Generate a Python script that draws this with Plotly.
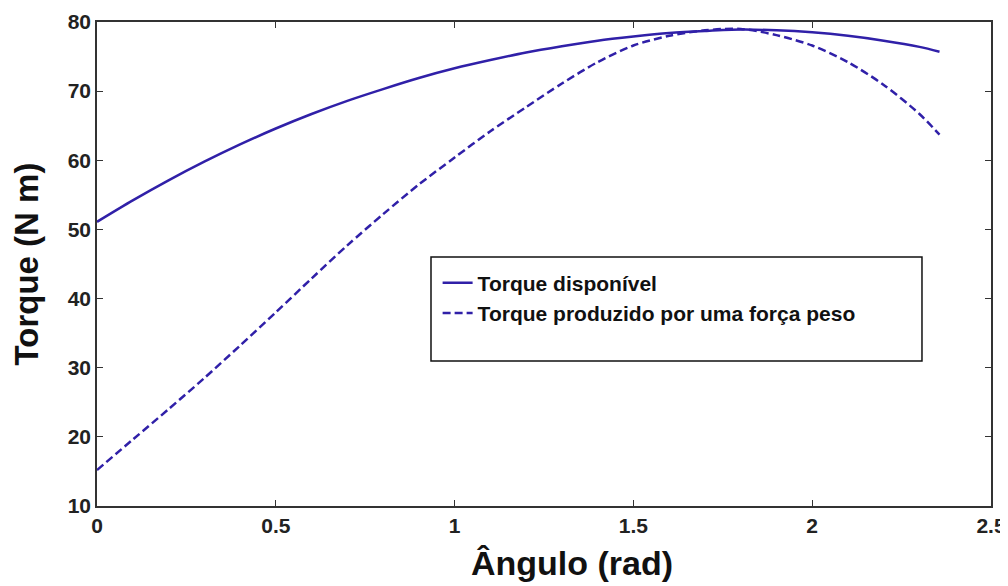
import plotly.graph_objects as go

# Data
angles = [0.0, 0.1, 0.2, 0.3, 0.4, 0.5, 0.6, 0.7, 0.8, 0.9, 1.0, 1.1, 1.2,
          1.3, 1.4, 1.5, 1.6, 1.7, 1.8, 1.9, 2.0, 2.1, 2.2, 2.3, 2.356]
torque_disponivel = [51.1, 54.2, 57.1, 59.8, 62.3, 64.6, 66.7, 68.6, 70.3, 71.9,
                     73.3, 74.5, 75.6, 76.5, 77.3, 77.9, 78.4, 78.7, 78.9, 78.8,
                     78.5, 78.0, 77.3, 76.4, 75.7]
torque_peso = [15.2, 19.6, 24.0, 28.5, 33.2, 38.0, 42.9, 47.7, 52.2, 56.5,
               60.4, 64.2, 67.7, 71.1, 74.2, 76.6, 78.0, 78.8, 79.0, 78.1,
               76.6, 74.2, 70.9, 66.7, 63.7]
series_names = ["Torque disponível", "Torque produzido por uma força peso"]
x_title = "Ângulo (rad)"
y_title = "Torque (N m)"

LINE_COLOR = "#3020a8"
FONT = "Liberation Sans, Arial, sans-serif"

fig = go.Figure()
fig.add_trace(go.Scatter(
    x=angles, y=torque_disponivel, mode="lines", name=series_names[0],
    line=dict(color=LINE_COLOR, width=2.5, shape="spline", smoothing=0.8),
))
fig.add_trace(go.Scatter(
    x=angles, y=torque_peso, mode="lines", name=series_names[1],
    line=dict(color=LINE_COLOR, width=2.5, dash="8px,4px", shape="spline", smoothing=0.8),
))

axis_common = dict(
    showgrid=False, zeroline=False, showline=True, linecolor="#333333",
    linewidth=1.5, mirror="ticks", ticks="inside", ticklen=6, tickwidth=1.2,
    tickcolor="#333333", automargin=False,
    tickfont=dict(family=FONT, size=21, color="#222222", weight="bold"),
)

fig.update_xaxes(range=[0, 2.5], dtick=0.5, tick0=0, **axis_common)
fig.update_yaxes(
    range=[10, 80], dtick=10, tick0=10,
    title=dict(text=y_title, font=dict(family=FONT, size=33, color="#111111", weight="bold"),
               standoff=20),
    **axis_common,
)

# x-axis title, placed as in the reference (slightly right of centre)
fig.add_annotation(
    text=x_title, xref="paper", yref="paper", x=0.531, y=-0.075,
    xanchor="center", yanchor="top", showarrow=False,
    font=dict(family=FONT, size=34, color="#111111", weight="bold"),
)

# Legend frame
fig.add_shape(type="rect", xref="paper", yref="paper",
              x0=0.3736, x1=0.9228, y0=0.2996, y1=0.5145,
              line=dict(color="#111111", width=1.5), fillcolor="white", layer="below")

# The page body has an 8px margin, so the figure is 1000x578 to fill the window
fig.update_layout(
    width=1000, height=578,
    margin=dict(l=89, r=17, t=14, b=80, autoexpand=False),
    paper_bgcolor="white", plot_bgcolor="white",
    legend=dict(
        x=0.381, y=0.503, xanchor="left", yanchor="top",
        bgcolor="rgba(0,0,0,0)", borderwidth=0,
        font=dict(family=FONT, size=21, color="#111111", weight="bold"),
        itemwidth=30, tracegroupgap=0,
    ),
    showlegend=True,
)

fig.write_html("out.html")
